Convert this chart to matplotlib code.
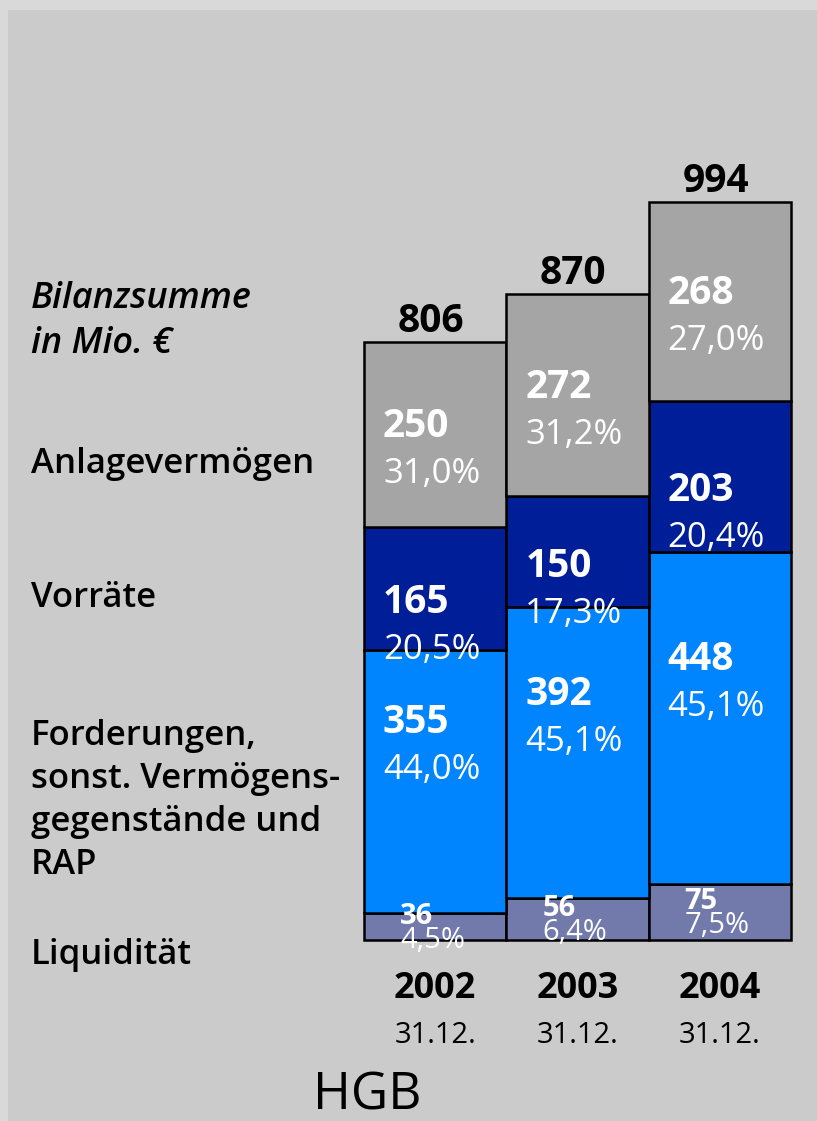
import numpy as np
import matplotlib.pyplot as plt
from matplotlib.patches import Rectangle

# data (Mio. EUR)
years = ['2002', '2003', '2004']
dates = ['31.12.', '31.12.', '31.12.']
totals = [806, 870, 994]
liquiditaet = [36, 56, 75]
forderungen = [355, 392, 448]
vorraete = [165, 150, 203]
anlage = [250, 272, 268]
pct_liquiditaet = ['4,5%', '6,4%', '7,5%']
pct_forderungen = ['44,0%', '45,1%', '45,1%']
pct_vorraete = ['20,5%', '17,3%', '20,4%']
pct_anlage = ['31,0%', '31,2%', '27,0%']

W, H = 817, 1121
FONT = 'Open Sans'


def fx(px):
    return px / W


def fy(py):
    return 1 - py / H


fig = plt.figure(figsize=(W / 100, H / 100), dpi=100)
fig.patch.set_facecolor('#d9d9d9')
fig.patches.append(Rectangle((fx(8), 0), 1, fy(10), transform=fig.transFigure,
                             facecolor='#cbcbcb', edgecolor='none', zorder=-10))

# axes placed so the bars land where they are in the picture
scale = 0.7425  # px per Mio
ax_h = 1100 * scale
ax = fig.add_axes([fx(364), fy(940), fx(791) - fx(364), ax_h / H])
ax.set_zorder(1)
ax.set_xlim(0, 3)
ax.set_ylim(0, 1100)
ax.axis('off')

x = np.arange(len(years))
segments = [
    # values, pct, colour, number size, pct size, label dx px, number dy px, pct dy px
    (liquiditaet, pct_liquiditaet, '#7279ab', 21, 21, 36, -3, 21),
    (forderungen, pct_forderungen, '#0085ff', 28, 25, 19, -48, -2),
    (vorraete, pct_vorraete, '#001e98', 28, 25, 19, 25, 71),
    (anlage, pct_anlage, '#a5a5a5', 28, 25, 19, 3, 49),
]

bottom = np.zeros(len(years))
for vals, pcts, col, ns, ps, dx, ndy, pdy in segments:
    vals = np.array(vals, dtype=float)
    bars = ax.bar(x, vals, width=1, bottom=bottom, align='edge', color=col,
                  edgecolor='black', linewidth=1.8, zorder=2)
    for b in bars:
        b.set_clip_on(False)
    for i in range(len(years)):
        mid = bottom[i] + vals[i] / 2
        ax.annotate(str(int(vals[i])), (x[i], mid), xytext=(dx * 0.72, -ndy * 0.72),
                    textcoords='offset points', ha='left', va='baseline',
                    color='white', fontsize=ns, fontweight='bold', family=FONT,
                    zorder=5, annotation_clip=False)
        ax.annotate(pcts[i], (x[i], mid), xytext=(dx * 0.72, -pdy * 0.72),
                    textcoords='offset points', ha='left', va='baseline',
                    color='white', fontsize=ps, family=FONT, zorder=5,
                    annotation_clip=False)
    bottom += vals

for i, t in enumerate(totals):
    ax.annotate(str(t), (x[i] + 0.5, t), xytext=(-3, 10 * 0.72), textcoords='offset points',
                ha='center', va='baseline', fontsize=28, fontweight='bold',
                family=FONT, color='black', annotation_clip=False)

# year labels below the bars
for i in range(len(years)):
    xc = ax.transData.transform((x[i] + 0.5, 0))
    xf = fig.transFigure.inverted().transform(xc)[0]
    fig.text(xf, fy(998), years[i], ha='center', va='baseline', fontsize=26,
             fontweight='bold', family=FONT)
    fig.text(xf, fy(1043), dates[i], ha='center', va='baseline', fontsize=21,
             family=FONT)

# left side legend text
fig.text(fx(31), fy(308), 'Bilanzsumme', ha='left', va='baseline', fontsize=26,
         fontweight='semibold', style='italic', family=FONT)
fig.text(fx(31), fy(353), 'in Mio. \u20ac', ha='left', va='baseline', fontsize=26,
         fontweight='semibold', style='italic', family=FONT)
left_labels = [
    ('Anlagevermögen', 473),
    ('Vorräte', 607),
    ('Forderungen,', 745),
    ('sonst. Vermögens-', 788),
    ('gegenstände und', 831),
    ('RAP', 874),
    ('Liquidität', 964),
]
for txt, py in left_labels:
    fig.text(fx(31), fy(py), txt, ha='left', va='baseline', fontsize=25,
             fontweight='semibold', family=FONT)

fig.text(fx(367), fy(1110), 'HGB', ha='center', va='baseline', fontsize=37, family=FONT)

fig.savefig('out.png', dpi=100, facecolor=fig.get_facecolor())
